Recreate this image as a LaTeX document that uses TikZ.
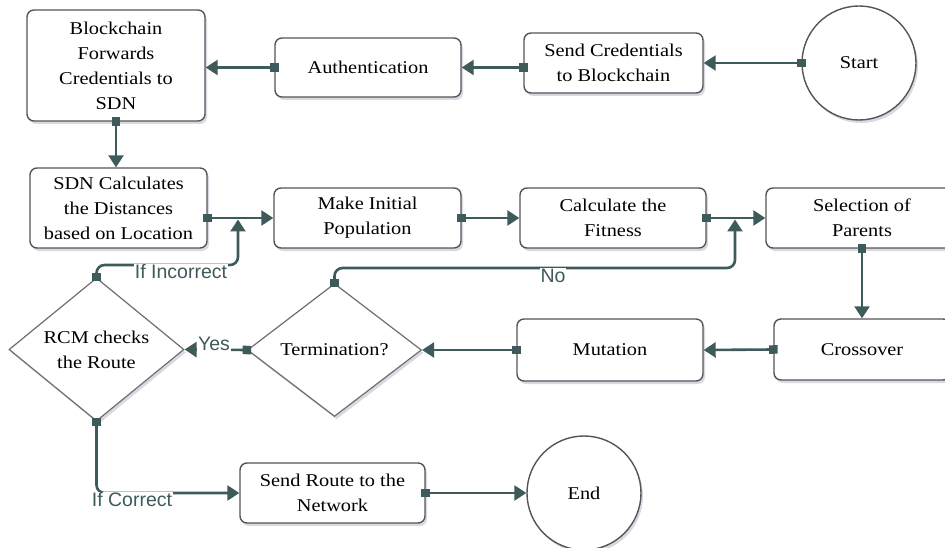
\documentclass[tikz,border=0pt]{standalone}
\usepackage{fontspec}
\setmainfont{Liberation Serif}[FakeStretch=1.13]
\newfontfamily\labelfont{Liberation Sans}
\usetikzlibrary{arrows.meta,shapes.geometric,shadows}
\definecolor{flow}{HTML}{3E5A5A}
\definecolor{edgegray}{HTML}{555555}

\begin{document}
\begin{tikzpicture}[x=1pt,y=-1pt,
  soft/.style={drop shadow={shadow xshift=2pt,shadow yshift=-3pt,opacity=0.15,fill=black!70!blue}},
  box/.style={draw=edgegray,line width=1.4pt,rounded corners=7pt,fill=white,
    align=center,inner sep=2pt,font=\fontsize{18}{25}\selectfont,soft},
  decision/.style={diamond,draw=edgegray!85,line width=1.2pt,fill=white,
    align=center,inner sep=0pt,font=\fontsize{18}{25}\selectfont,soft},
  terminal/.style={circle,draw=edgegray,line width=1.4pt,fill=white,
    minimum size=114pt,inner sep=0pt,font=\fontsize{18}{25}\selectfont,soft},
  link/.style={draw=flow,line width=2.6pt,rounded corners=8pt,
    {Square[length=8.5pt,width=8.5pt]}-{Triangle[length=12pt,width=15pt]},
    shorten <=-4.25pt},
  tag/.style={font=\labelfont\fontsize{19.5}{19.5}\selectfont,text=flow,
    fill=white,inner sep=1pt}
]
\useasboundingbox (0,0) rectangle (945,548);
\clip (0,0) rectangle (945,548);

% row 1
\node[box,minimum width=178pt,minimum height=111pt] (bc) at (116,65.5)
  {Blockchain\\Forwards\\Credentials to\\SDN};
\node[box,minimum width=186pt,minimum height=59pt] (auth) at (368,67.5)
  {Authentication};
\node[box,minimum width=179pt,minimum height=60pt] (send) at (613.5,63)
  {Send Credentials\\to Blockchain};
\node[terminal] (start) at (859,63) {Start};

% row 2
\node[box,minimum width=177pt,minimum height=80pt] (sdn) at (118.5,208)
  {SDN Calculates\\the Distances\\based on Location};
\node[box,minimum width=187pt,minimum height=60pt] (init) at (367.5,218)
  {Make Initial\\Population};
\node[box,minimum width=186pt,minimum height=60pt] (fit) at (613,218)
  {Calculate the\\Fitness};
\node[box,minimum width=192pt,minimum height=60pt] (sel) at (862,218)
  {Selection of\\Parents};

% row 3
\node[decision,minimum width=175pt,minimum height=128pt] (rcm) at (96.5,349.5)
  {RCM checks\\the Route};
\node[decision,minimum width=174pt,minimum height=133pt] (term) at (334.5,350)
  {Termination?};
\node[box,minimum width=186pt,minimum height=62pt] (mut) at (610,350)
  {Mutation};
\node[box,minimum width=176pt,minimum height=61pt] (cross) at (862,349.5)
  {Crossover};

% row 4
\node[box,minimum width=185pt,minimum height=60pt] (route) at (332.5,493)
  {Send Route to the\\Network};
\node[terminal] (end) at (584,493) {End};

% junction points and bends of the loop-back lines
\coordinate (j1) at (238,219.5);
\coordinate (j2) at (735,219.5);
\coordinate (incbend) at (238,265);
\coordinate (nobend) at (735,268);

% main flow
\draw[link] (start.west) -- (send.east);
\draw[link] (auth.east -| send.west) -- (auth.east);
\draw[link] (auth.west) -- (auth.west -| bc.east);
\draw[link] (bc.south) -- (bc.south |- sdn.north);
\draw[link] (sdn.east |- init.west) -- (init.west);
\draw[link] (init.east) -- (fit.west);
\draw[link] (fit.east) -- (sel.west);
\draw[link] (sel.south) -- (cross.north);
\draw[link] (cross.west) -- (mut.east);
\draw[link] (mut.west) -- (term.east);
\draw[link] (term.west) -- (rcm.east);
\draw[link] (term.north) |- (nobend) -- (j2);
\draw[link] (rcm.north) |- (incbend) -- (j1);
\draw[link] (rcm.south) |- (route.west);
\draw[link] (route.east) -- (end.west);

% branch labels
\node[tag] (lno) at (553,276) {No};
\node[tag] (lyes) at (214,344) {Yes};
\node[tag] (linc) at (181,272) {If Incorrect};
\node[tag] (lcor) at (132,500) {If Correct};
\end{tikzpicture}
\end{document}
